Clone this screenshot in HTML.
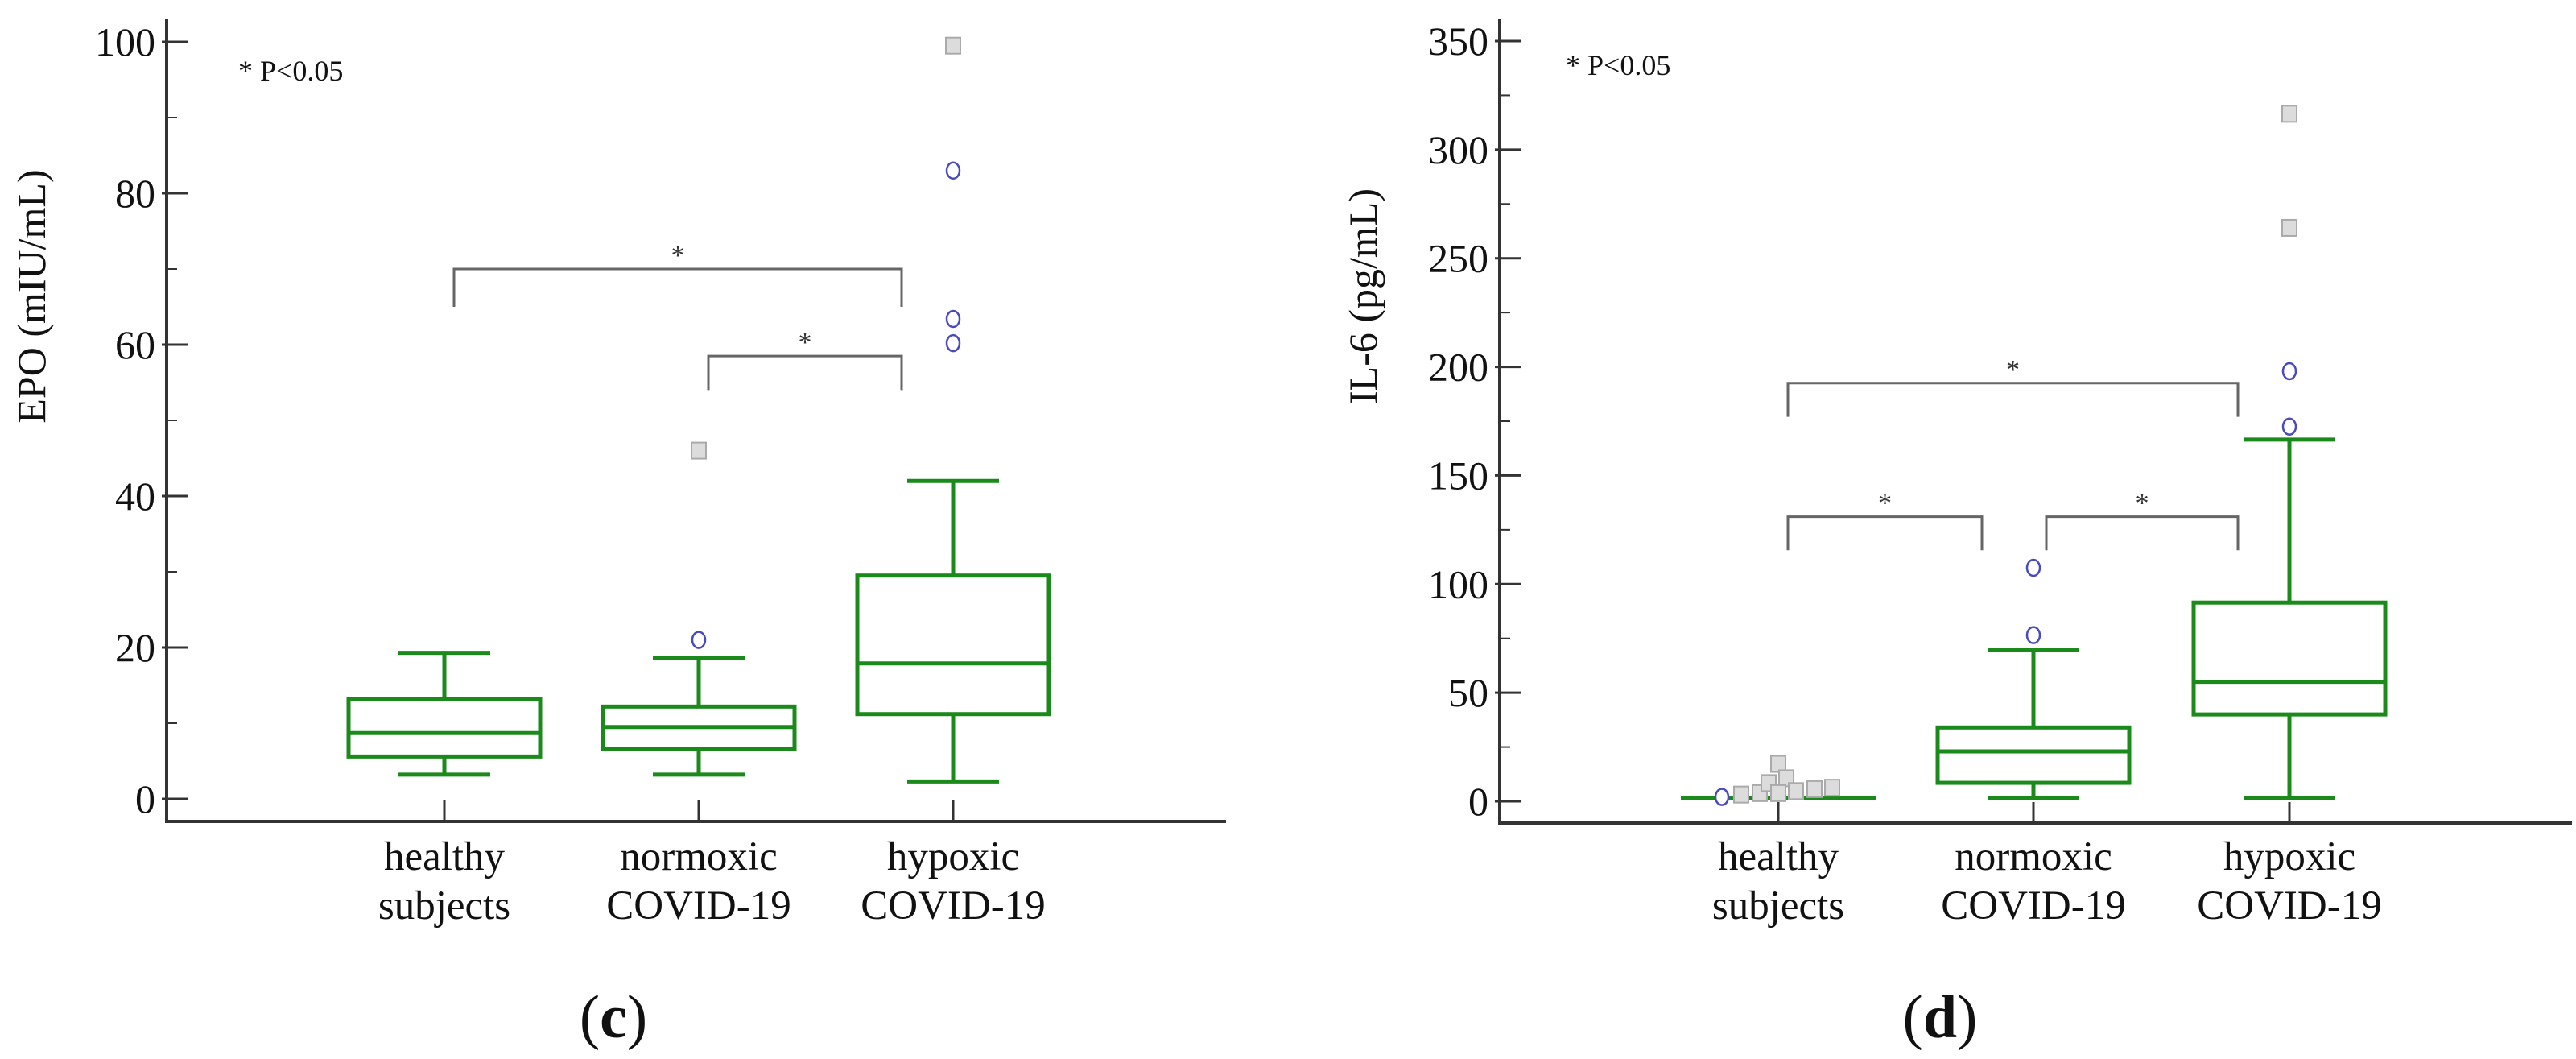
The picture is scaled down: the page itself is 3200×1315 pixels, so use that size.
<!DOCTYPE html>
<html><head><meta charset="utf-8"><style>
html,body{margin:0;padding:0;background:#fff;}
svg{display:block;font-family:"Liberation Serif",serif;}
</style></head><body>
<svg id="fig" width="3200" height="1315" viewBox="0 0 3200 1315" xmlns="http://www.w3.org/2000/svg"></svg>
<script>
// ---- Panel C: EPO data ----
const epoCategories = [["healthy","subjects"],["normoxic","COVID-19"],["hypoxic","COVID-19"]];
const epoWhiskerLow = [3.2, 3.2, 2.3];
const epoQ1 = [5.6, 6.6, 11.2];
const epoMedian = [8.7, 9.5, 17.9];
const epoQ3 = [13.2, 12.2, 29.5];
const epoWhiskerHigh = [19.3, 18.6, 42];
const epoCircleOutliers = [[], [21], [60.2, 63.4, 83]];
const epoSquareOutliers = [[], [46], [99.5]];
const epoTicks = [0, 20, 40, 60, 80, 100];
const epoBrackets = [[0, 2, 70, 65, 65], [1, 2, 58.5, 54, 54]];
// ---- Panel D: IL-6 data ----
const il6Categories = [["healthy","subjects"],["normoxic","COVID-19"],["hypoxic","COVID-19"]];
const il6WhiskerLow = [1.5, 1.5, 1.5];
const il6Q1 = [1.5, 8.5, 40];
const il6Median = [1.5, 23, 55];
const il6Q3 = [1.5, 34, 91.5];
const il6WhiskerHigh = [1.5, 69.5, 166.5];
const il6CircleOutliers = [[2], [76.5, 107.5], [172.5, 198]];
const il6SquareOutliers = [[3.1, 3.75, 8.4, 17.2, 10.6, 3.75, 4.7, 5.6, 6.25], [], [264, 316.5]];
const il6Ticks = [0, 50, 100, 150, 200, 250, 300, 350];
const il6Brackets = [[0, 2, 192.5, 177, 177], [0, 1, 131, 115.6, 115.6], [1, 2, 131, 115.6, 115.6]];

const NS = "http://www.w3.org/2000/svg";
const svg = document.getElementById("fig");
function mk(tag, attrs, parent, text){
  const e = document.createElementNS(NS, tag);
  for (const k in attrs) e.setAttribute(k, attrs[k]);
  if (text !== undefined) e.textContent = text;
  (parent || svg).appendChild(e);
  return e;
}
const GREEN = "#1a8a1a";

function panel(cfg){
  const g = mk("g", {});
  
  
  const y = v => cfg.y0 - v * (cfg.y0 - cfg.yTop) / cfg.vMax;
  const x = i => cfg.cx[i];
  const ax = mk("path", {d:`M${cfg.ax} ${cfg.axTop} L${cfg.ax} ${cfg.axBottom} L${cfg.axRight} ${cfg.axBottom}`, fill:"none", stroke:"#333", "stroke-width":4}, g);
  
  
  cfg.ticks.forEach((t, k) => {
    const yy = y(t);
    const tl = mk("line", {x1:cfg.ax-6, x2:cfg.ax+26, y1:yy, y2:yy, stroke:"#333", "stroke-width":3}, g);
    
    
    const lab = mk("text", {x:cfg.ax-14, y:yy+17, "text-anchor":"end", "font-size":50, fill:"#111"}, g, String(t));
    
    
    if (k < cfg.ticks.length - 1) {
      const mid = (t + cfg.ticks[k+1]) / 2;
      const ml = mk("line", {x1:cfg.ax, x2:cfg.ax+13, y1:y(mid), y2:y(mid), stroke:"#333", "stroke-width":2}, g);
      
      
    }
  });
  const yt = mk("text", {x:0, y:0, transform:`translate(${cfg.titleX},${368}) rotate(-90)`, "text-anchor":"middle", "font-size":50, fill:"#111"}, g, cfg.title);
  
  
  const pn = mk("text", {x:cfg.pX, y:cfg.pY, "font-size":36, fill:"#111"}, g, "* P<0.05");
  
  
  cfg.cats.forEach((c, i) => {
    const tk = mk("line", {x1:x(i), x2:x(i), y1:cfg.axBottom, y2:cfg.axBottom-26, stroke:"#333", "stroke-width":3}, g);
    
    
    const t1 = mk("text", {x:x(i), y:1080, "text-anchor":"middle", "font-size":51, fill:"#111"}, g, c[0]);
    
    
    const t2 = mk("text", {x:x(i), y:1141, "text-anchor":"middle", "font-size":51, fill:"#111"}, g, c[1]);
    
    
    const bg = mk("g", {stroke:GREEN, "stroke-width":5, fill:"none"}, g);
    
    
    const hw = 119, cw = 57;
    mk("line", {x1:x(i), x2:x(i), y1:y(cfg.wl[i]), y2:y(cfg.q1[i])}, bg);
    mk("line", {x1:x(i), x2:x(i), y1:y(cfg.q3[i]), y2:y(cfg.wh[i])}, bg);
    const capW = cfg.q1[i] === cfg.q3[i] ? 121 : cw;
    mk("line", {x1:x(i)-capW, x2:x(i)+capW, y1:y(cfg.wl[i]), y2:y(cfg.wl[i])}, bg);
    mk("line", {x1:x(i)-capW, x2:x(i)+capW, y1:y(cfg.wh[i]), y2:y(cfg.wh[i])}, bg);
    if (cfg.q3[i] > cfg.q1[i]) {
      mk("rect", {x:x(i)-hw, y:y(cfg.q3[i]), width:2*hw, height:y(cfg.q1[i])-y(cfg.q3[i])}, bg);
      mk("line", {x1:x(i)-hw, x2:x(i)+hw, y1:y(cfg.med[i]), y2:y(cfg.med[i])}, bg);
    }
    cfg.sq[i].forEach((v, j) => {
      const off = cfg.sq[i].length > 2 ? cfg.jitter[j] : 0;
      const s = mk("rect", {x:x(i)+off-9, y:y(v)-10, width:18, height:20, fill:"#dcdcdc", stroke:"#aaa", "stroke-width":2}, g);
      
      
    });
    cfg.circ[i].forEach(v => {
      const off = (cfg.sq[i].length > 2) ? -70 : 0;
      const ci = mk("ellipse", {cx:x(i)+off, cy:y(v), rx:8, ry:10, fill:"#fff", stroke:"#4a4ac0", "stroke-width":2.5}, g);
      
      
    });
  });
  cfg.brackets.forEach(b => {
    const x1 = x(b[0]) + 12 + (b[0] > 0 && cfg.brackets.length > 2 ? 4 : 0), x2 = x(b[1]) - 64;
    const br = mk("path", {d:`M${x1} ${y(b[3])} L${x1} ${y(b[2])} L${x2} ${y(b[2])} L${x2} ${y(b[4])}`, fill:"none", stroke:"#666", "stroke-width":3}, g);
    
    
    const st = mk("text", {x:(x1+x2)/2, y:y(b[2])-6, "text-anchor":"middle", "font-size":34, fill:"#333"}, g, "*");
    
    
  });
  const pl = mk("text", {x:cfg.labX, y:1288, "text-anchor":"middle", "font-size":76, fill:"#111"}, g);
  
  
  mk("tspan", {}, pl, "(");
  mk("tspan", {"font-weight":"bold"}, pl, cfg.label);
  mk("tspan", {}, pl, ")");
}

panel({name:"panel-c-epo", y0:992, yTop:52, vMax:100, ax:207, axTop:24, axBottom:1020, axRight:1523,
  cx:[552,868,1184], ticks:epoTicks, title:"EPO (mIU/mL)", titleX:56, pX:296, pY:100,
  cats:epoCategories, wl:epoWhiskerLow, q1:epoQ1, med:epoMedian, q3:epoQ3, wh:epoWhiskerHigh,
  circ:epoCircleOutliers, sq:epoSquareOutliers, jitter:[], brackets:epoBrackets, labX:762, label:"c"});

panel({name:"panel-d-il6", y0:995, yTop:51, vMax:350, ax:1863, axTop:24, axBottom:1022, axRight:3195,
  cx:[2209,2526,2844], ticks:il6Ticks, title:"IL-6 (pg/mL)", titleX:1710, pY:93, pX:1945,
  cats:il6Categories, wl:il6WhiskerLow, q1:il6Q1, med:il6Median, q3:il6Q3, wh:il6WhiskerHigh,
  circ:il6CircleOutliers, sq:il6SquareOutliers, jitter:[-46,-23,-12,0,10,0,22,45,67],
  brackets:il6Brackets, labX:2410, label:"d"});
</script>
</body></html>
